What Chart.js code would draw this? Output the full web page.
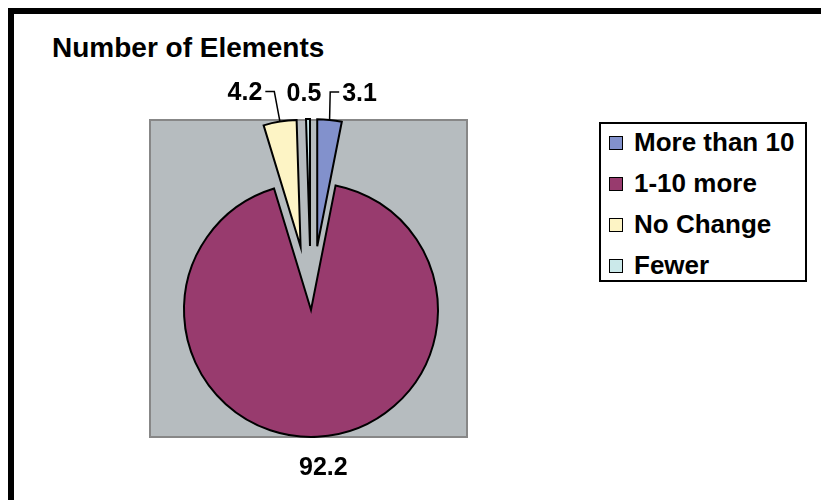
<!DOCTYPE html>
<html>
<head>
<meta charset="utf-8">
<script src="https://cdn.jsdelivr.net/npm/chart.js@4.4.1/dist/chart.umd.min.js"></script>
<style>
  html, body { margin: 0; padding: 0; width: 821px; height: 500px; overflow: hidden; background: #fff; }
  body { position: relative; font-family: "Liberation Sans", Arial, sans-serif; color: #000; }
  #frame { position: absolute; left: 8px; top: 8px; width: 840px; height: 520px; border: 6px solid #000; }
  #title { position: absolute; left: 52px; top: 34px; font-size: 28px; line-height: 28px; font-weight: bold; white-space: nowrap; }
  #plotBg { position: absolute; left: 149px; top: 119px; width: 315px; height: 315px; background: #b6bcbf; border: 2px solid #878787; }
  #chart { position: absolute; left: 0; top: 0; }
  #legend { position: absolute; left: 599px; top: 122px; width: 204px; height: 156px; border: 2px solid #000; background: #fff; }
  #legend ul { list-style: none; margin: -2px 0 0 0; padding: 0; }
  #legend li { display: flex; align-items: center; height: 41px; font-size: 26px; font-weight: bold; white-space: nowrap; }
  #legend .sw { width: 12px; height: 12px; border: 1.5px solid #000; margin-left: 8px; margin-right: 11px; flex: none; }
</style>
</head>
<body>
<div id="frame"></div>
<div id="title">Number of Elements</div>
<div id="plotBg"></div>
<canvas id="chart" width="821" height="500"></canvas>
<div id="legend"><ul id="legendList"></ul></div>
<script>
// data (percent of cases)
const categories = ['More than 10', '1-10 more', 'No Change', 'Fewer'];
const shares = [3.1, 92.2, 4.2, 0.5];
const sliceColors = ['#8291cc', '#983b6e', '#fdf4c5', '#cbe9ea'];

// how far each slice is pulled out, and where its value label sits
const explodeBy = [64, 0, 64, 64];
const labelNudge = [[30, -26], [6, 31], [-35, -28], [-4, -25]];

// pull slices out along their mid angle (the built-in offset also grows the radius)
const explodePlugin = {
    id: 'explode',
    afterDatasetUpdate(chart, args, opts) {
        const arcs = chart.getDatasetMeta(args.index).data;
        arcs.forEach((arc, i) => {
            const e = opts.amounts[i] || 0;
            if (!e) return;
            const mid = (arc.startAngle + arc.endAngle) / 2;
            arc.x += Math.cos(mid) * e;
            arc.y += Math.sin(mid) * e;
        });
    }
};

const valueLabels = {
    id: 'valueLabels',
    afterDatasetsDraw(chart, args, opts) {
        const ctx = chart.ctx;
        const arcs = chart.getDatasetMeta(0).data;
        const values = chart.data.datasets[0].data;
        ctx.save();
        ctx.font = 'bold 25px "Liberation Sans", Arial, sans-serif';
        ctx.textAlign = 'center';
        ctx.textBaseline = 'middle';
        ctx.fillStyle = '#000';
        ctx.strokeStyle = '#000';
        ctx.lineWidth = 1.5;
        arcs.forEach((arc, i) => {
            const mid = (arc.startAngle + arc.endAngle) / 2;
            const px = arc.x + Math.cos(mid) * arc.outerRadius;
            const py = arc.y + Math.sin(mid) * arc.outerRadius;
            const [dx, dy] = opts.nudge[i];
            const lx = px + dx, ly = py + dy;
            const text = values[i].toFixed(1);
            ctx.fillText(text, lx, ly);
            if (Math.abs(dx) > 15) {
                // leader line: from the slice edge up to an elbow, then across to the label
                const w = ctx.measureText(text).width;
                const side = dx < 0 ? 1 : -1;
                const edge = lx + side * w / 2;
                ctx.beginPath();
                ctx.moveTo(px, py);
                ctx.lineTo(edge + side * 12, ly - 2);
                ctx.lineTo(edge + side * 3, ly - 2);
                ctx.stroke();
            }
        });
        ctx.restore();
    }
};

new Chart(document.getElementById('chart'), {
    type: 'pie',
    data: {
        labels: categories,
        datasets: [{
            data: shares,
            backgroundColor: sliceColors,
            borderColor: '#000',
            borderWidth: 2,
            borderJoinStyle: 'miter',
            offset: 0
        }]
    },
    options: {
        responsive: false,
        animation: false,
        radius: 127,
        rotation: 0,
        layout: { padding: { left: 150, right: 349, top: 150, bottom: 30 } },
        events: [],
        plugins: {
            legend: { display: false },
            title: { display: false },
            tooltip: { enabled: false },
            explode: { amounts: explodeBy },
            valueLabels: { nudge: labelNudge }
        }
    },
    plugins: [explodePlugin, valueLabels]
});

// legend box
const list = document.getElementById('legendList');
categories.forEach((name, i) => {
    const li = document.createElement('li');
    const sw = document.createElement('span');
    sw.className = 'sw';
    sw.style.background = sliceColors[i];
    li.appendChild(sw);
    li.appendChild(document.createTextNode(name));
    list.appendChild(li);
});
</script>
</body>
</html>
